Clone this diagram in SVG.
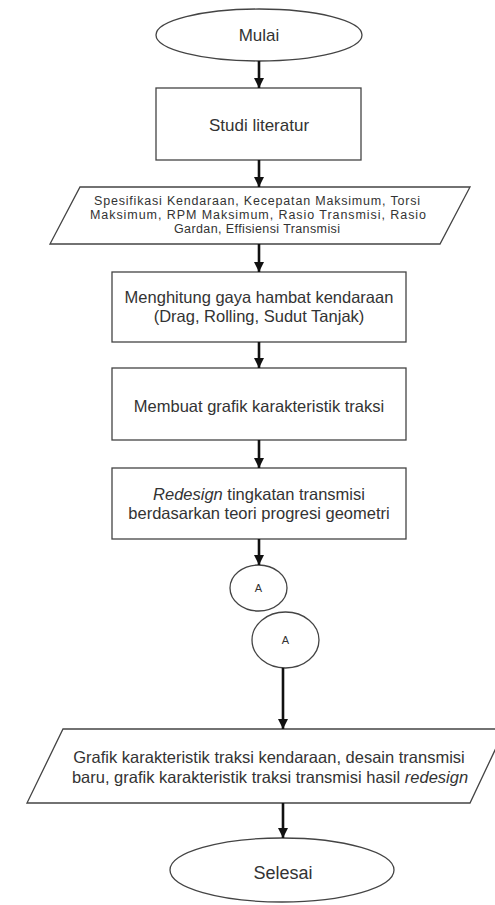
<svg xmlns="http://www.w3.org/2000/svg" width="495" height="905" viewBox="0 0 495 905">
<defs>
<marker id="ah" viewBox="0 0 10 10" refX="10" refY="5" markerWidth="4" markerHeight="4" markerUnits="strokeWidth" orient="auto">
<path d="M0,0 L10,5 L0,10 z" fill="#111"/>
</marker>
<style>
.s{fill:#fff;stroke:#444;stroke-width:1.3}
.t{font-family:"Liberation Sans",Arial,sans-serif;fill:#333;text-anchor:middle}
.c{stroke:#111;stroke-width:2.6;fill:none}
</style>
</defs>
<rect width="495" height="905" fill="#fff"/>
<g id="mulai"><ellipse class="s" cx="259" cy="35" rx="103" ry="26"/><text class="t" x="259" y="41" font-size="17">Mulai</text></g>
<g id="studi"><rect class="s" x="156" y="88" width="205" height="72"/><text class="t" x="259" y="131" font-size="17">Studi literatur</text></g>
<g id="input"><polygon class="s" points="80,187 470,187 440,244 50,244"/>
<text class="t" font-size="12.5" lengthAdjust="spacing"><tspan x="257" y="204.5" textLength="326">Spesifikasi Kendaraan, Kecepatan Maksimum, Torsi</tspan></text>
<text class="t" font-size="12.5"><tspan x="258" y="218.5" textLength="336">Maksimum, RPM Maksimum, Rasio Transmisi, Rasio</tspan></text>
<text class="t" font-size="12.5"><tspan x="257" y="232.5" textLength="166">Gardan, Effisiensi Transmisi</tspan></text></g>
<g id="hitung"><rect class="s" x="112" y="272" width="294" height="70"/><text class="t" font-size="16.5"><tspan x="259" y="303">Menghitung gaya hambat kendaraan</tspan><tspan x="259" y="321.5">(Drag, Rolling, Sudut Tanjak)</tspan></text></g>
<g id="grafik"><rect class="s" x="112" y="368" width="294" height="72"/><text class="t" x="259" y="412" font-size="16.5">Membuat grafik karakteristik traksi</text></g>
<g id="redesign"><rect class="s" x="112" y="468" width="294" height="71"/><text class="t" font-size="16.5"><tspan x="259" y="500"><tspan font-style="italic">Redesign</tspan> tingkatan transmisi</tspan><tspan x="259" y="518.5">berdasarkan teori progresi geometri</tspan></text></g>
<g id="a1"><ellipse class="s" cx="258.5" cy="588" rx="28.5" ry="23"/><text class="t" x="258.5" y="592" font-size="11">A</text></g>
<g id="a2"><ellipse class="s" cx="285.5" cy="640" rx="33.5" ry="28"/><text class="t" x="285.5" y="644" font-size="11">A</text></g>
<g id="output"><polygon class="s" points="63,729 505,729 470,803 27,803"/>
<text class="t" font-size="16.5"><tspan x="269" y="763">Grafik karakteristik traksi kendaraan, desain transmisi</tspan><tspan x="270" y="783">baru, grafik karakteristik traksi transmisi hasil <tspan font-style="italic">redesign</tspan></tspan></text></g>
<g id="selesai"><ellipse class="s" cx="282" cy="870" rx="112" ry="32"/><text class="t" x="283" y="879" font-size="18">Selesai</text></g>
<g id="connectors">
<line class="c" x1="259" y1="61" x2="259" y2="88" marker-end="url(#ah)"/>
<line class="c" x1="259" y1="160" x2="259" y2="187" marker-end="url(#ah)"/>
<line class="c" x1="259" y1="244" x2="259" y2="272" marker-end="url(#ah)"/>
<line class="c" x1="259" y1="342" x2="259" y2="368" marker-end="url(#ah)"/>
<line class="c" x1="259" y1="440" x2="259" y2="468" marker-end="url(#ah)"/>
<line class="c" x1="259" y1="539" x2="259" y2="565" marker-end="url(#ah)"/>
<line class="c" x1="283" y1="668" x2="283" y2="729" marker-end="url(#ah)"/>
<line class="c" x1="283" y1="803" x2="283" y2="838" marker-end="url(#ah)"/>
</g>
</svg>
